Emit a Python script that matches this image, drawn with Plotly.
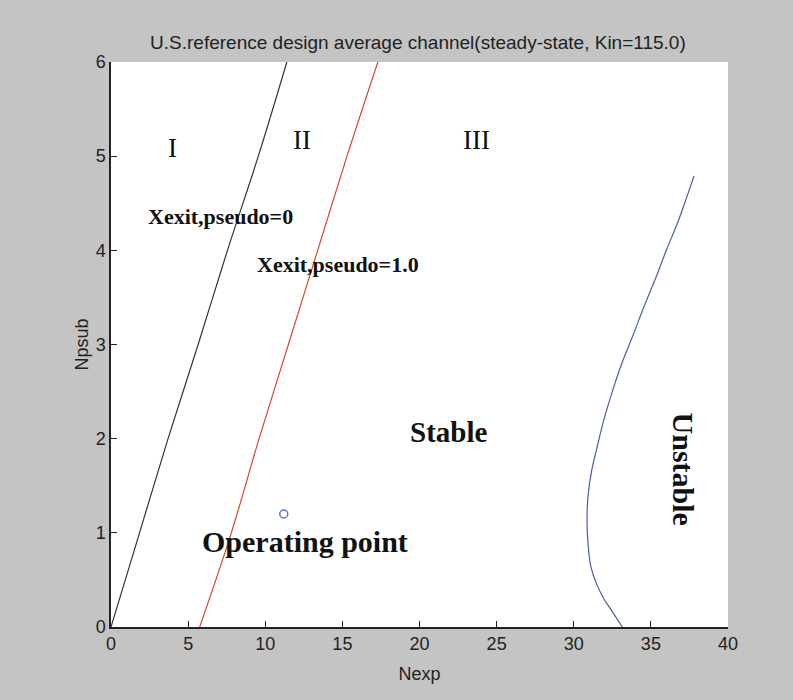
import plotly.graph_objects as go

# Data
black_x = [0.0, 1.85, 3.7, 5.65, 7.55, 9.55, 11.4]
black_y = [0, 1, 2, 3, 4, 5, 6]

red_x = [5.75, 7.8, 9.6, 11.5, 13.4, 15.3, 17.3]
red_y = [0, 1, 2, 3, 4, 5, 6]

blue_x = [33.15, 32.75, 32.35, 31.95, 31.5, 31.1, 30.92, 30.86, 30.93, 31.15, 31.5, 31.95, 32.5, 33.12, 33.85, 34.55, 35.3, 36.0, 36.75, 37.4, 37.8]
blue_y = [0.0, 0.1, 0.2, 0.3, 0.45, 0.65, 0.9, 1.15, 1.4, 1.65, 1.9, 2.2, 2.5, 2.8, 3.1, 3.4, 3.7, 4.0, 4.3, 4.6, 4.79]

op_x = [11.2]
op_y = [1.2]

x_ticks = [0, 5, 10, 15, 20, 25, 30, 35, 40]
y_ticks = [0, 1, 2, 3, 4, 5, 6]

fig = go.Figure()
fig.add_trace(go.Scatter(x=black_x, y=black_y, mode="lines", line_shape="spline",
                         line=dict(color="#333333", width=1.2), showlegend=False))
fig.add_trace(go.Scatter(x=red_x, y=red_y, mode="lines", line_shape="spline",
                         line=dict(color="#d8462a", width=1.2), showlegend=False))
fig.add_trace(go.Scatter(x=blue_x, y=blue_y, mode="lines", line_shape="spline",
                         line=dict(color="#4a5fa0", width=1.2), showlegend=False))
fig.add_trace(go.Scatter(x=op_x, y=op_y, mode="markers",
                         marker=dict(symbol="circle-open", size=8, color="#5a7ab0",
                                     line=dict(width=1.5)), showlegend=False))

serif = "Liberation Serif, Times New Roman, serif"
ann = [
    dict(x=4.0, y=5.09, text="I", size=27, bold=False, angle=0),
    dict(x=12.4, y=5.17, text="II", size=27, bold=False, angle=0),
    dict(x=23.7, y=5.17, text="III", size=27, bold=False, angle=0),
    dict(x=7.1, y=4.36, text="Xexit,pseudo=0", size=22, bold=True, angle=0),
    dict(x=14.7, y=3.85, text="Xexit,pseudo=1.0", size=22, bold=True, angle=0),
    dict(x=21.9, y=2.07, text="Stable", size=29, bold=True, angle=0),
    dict(x=12.6, y=0.91, text="Operating point", size=30, bold=True, angle=0),
    dict(x=37.1, y=1.68, text="Unstable", size=30, bold=True, angle=90),
]
for a in ann:
    t = f"<b>{a['text']}</b>" if a["bold"] else a["text"]
    fig.add_annotation(x=a["x"], y=a["y"], text=t, showarrow=False,
                       textangle=a["angle"], xanchor="center", yanchor="middle",
                       font=dict(family=serif, size=a["size"], color="#111111"))

axis_font = dict(family="Liberation Sans, Arial, sans-serif", size=18, color="#222222")
fig.update_layout(
    width=793, height=700,
    margin=dict(l=111, r=65, t=62, b=73),
    paper_bgcolor="#c4c4c4",
    plot_bgcolor="white",
    title=dict(text="U.S.reference design average channel(steady-state, Kin=115.0)",
               x=0.527, xanchor="center", y=0.94, yanchor="middle",
               font=dict(family="Liberation Sans, Arial, sans-serif", size=19, color="#222222")),
    xaxis=dict(range=[0, 40], tickvals=x_ticks, ticks="inside", ticklen=6,
               tickcolor="#222222", showgrid=False, zeroline=False,
               showline=True, linecolor="#222222", linewidth=1.5,
               tickfont=axis_font,
               title=dict(text="Nexp", font=axis_font, standoff=14)),
    yaxis=dict(range=[0, 6], tickvals=y_ticks, ticks="inside", ticklen=6,
               tickcolor="#222222", showgrid=False, zeroline=False,
               showline=True, linecolor="#222222", linewidth=1.5,
               tickfont=axis_font,
               title=dict(text="Npsub", font=axis_font, standoff=2)),
)

fig.write_html("out.html")
